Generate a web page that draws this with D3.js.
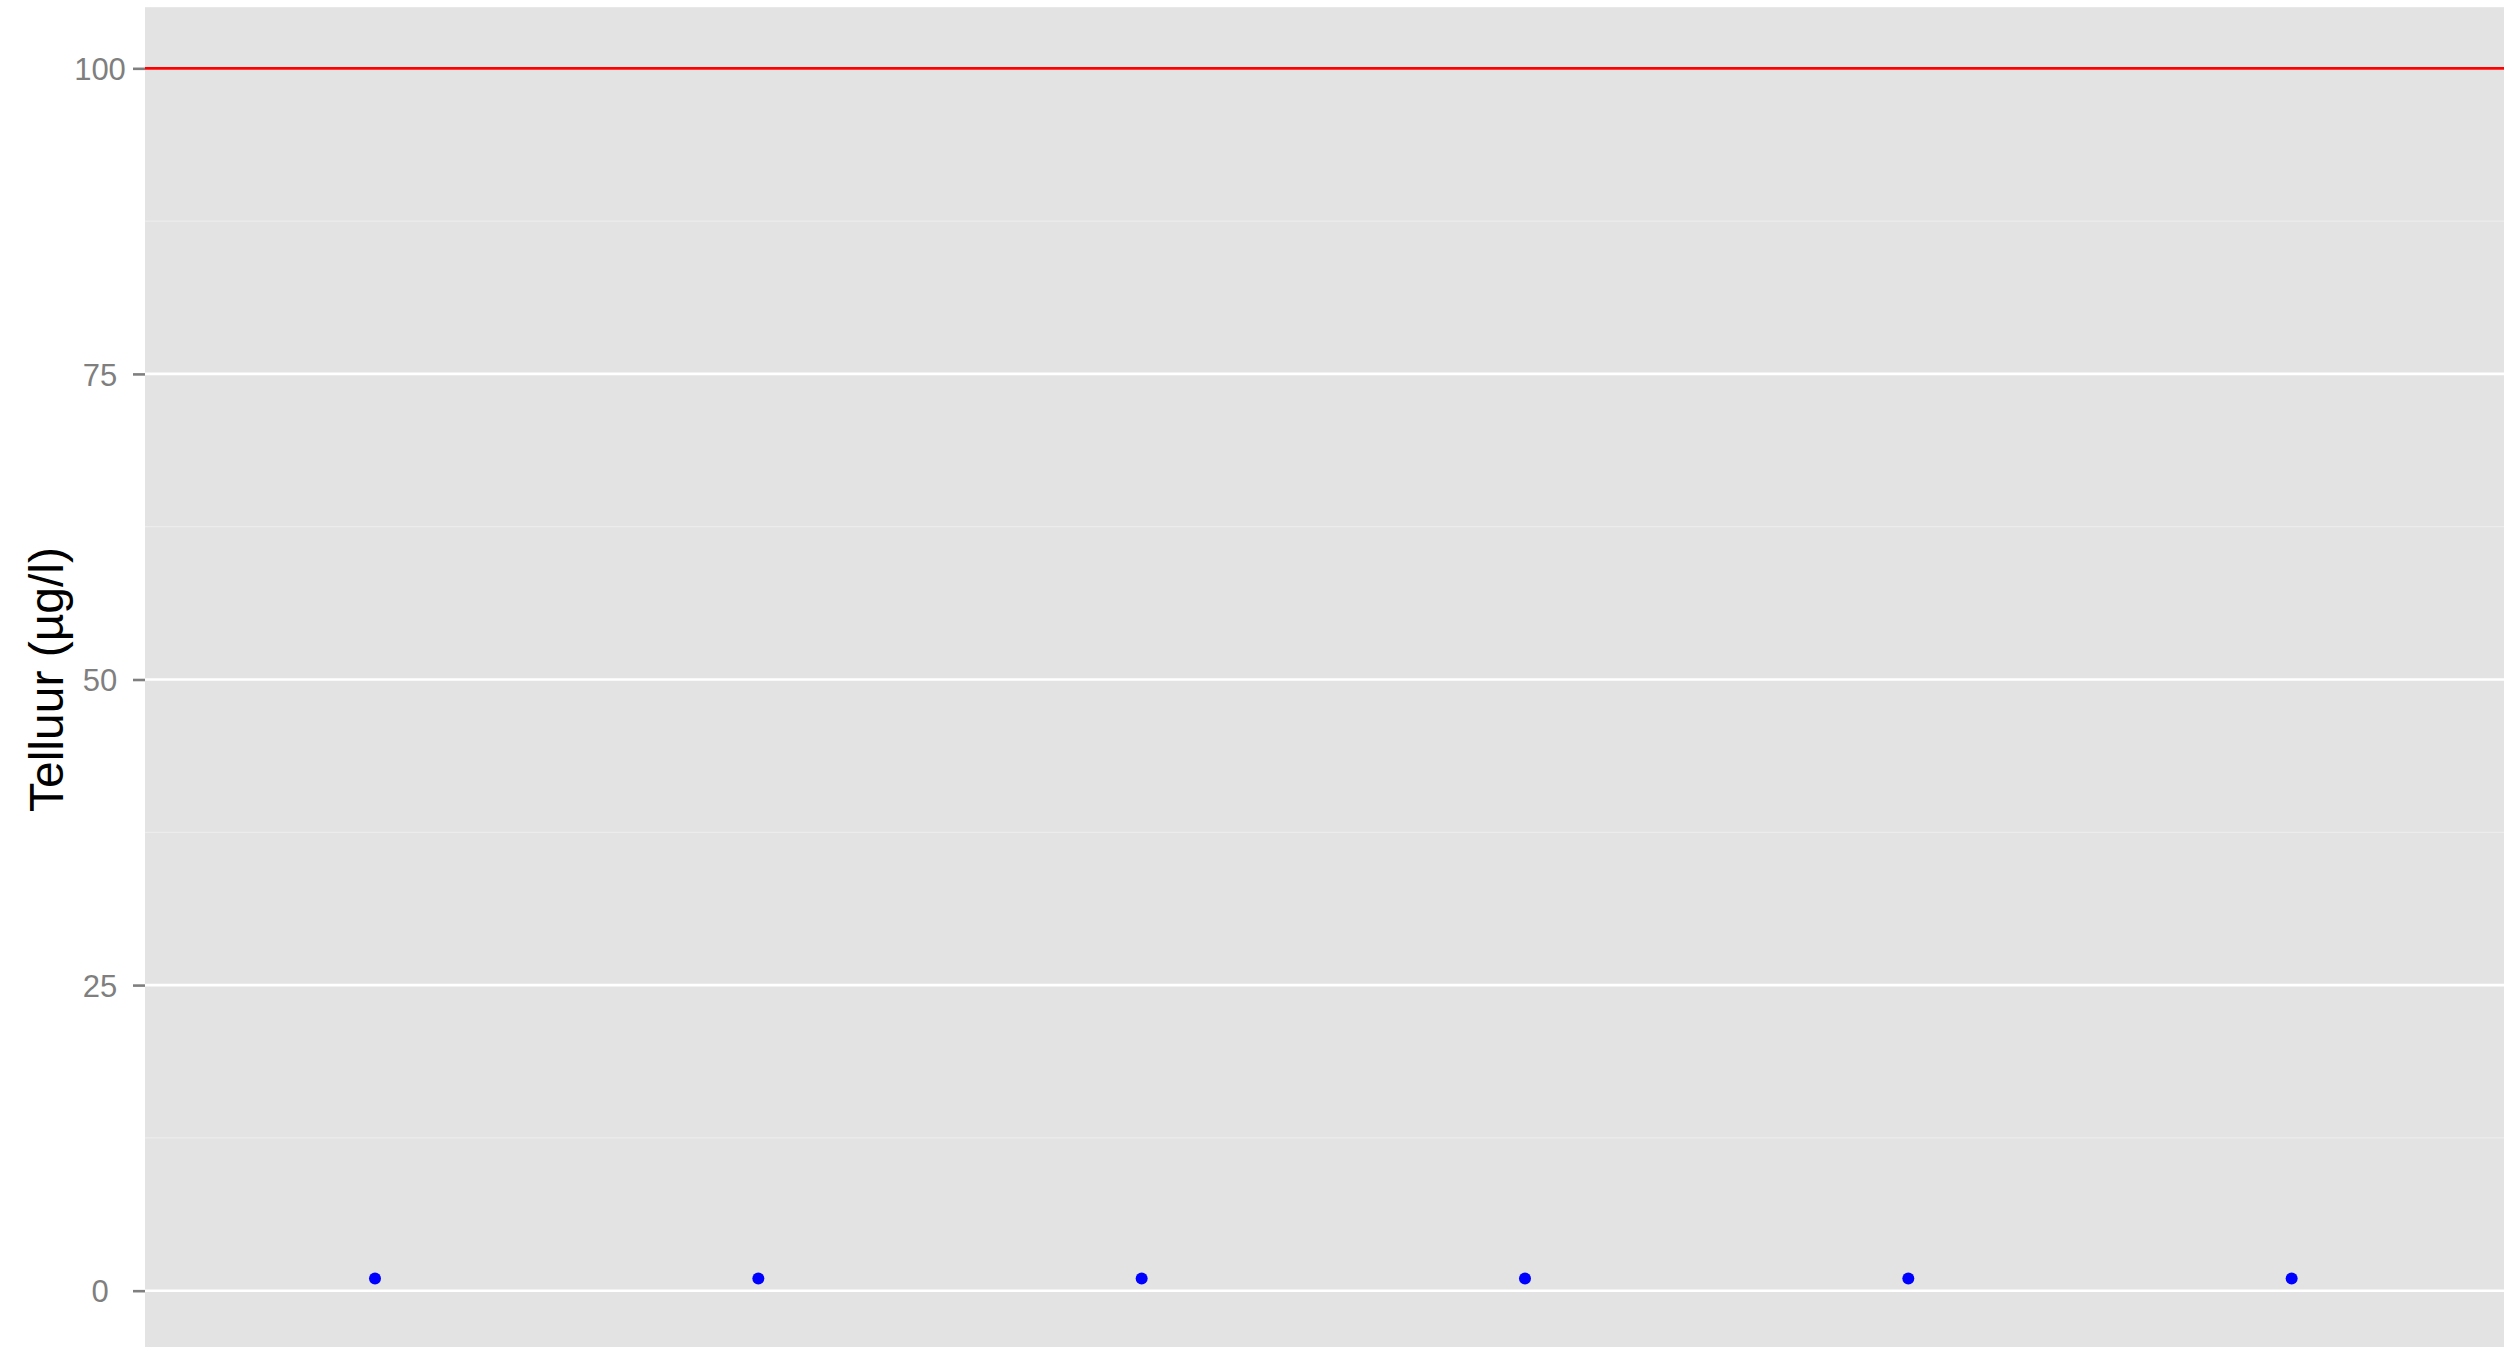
<!doctype html>
<html>
<head>
<meta charset="utf-8" />
<script src="https://d3js.org/d3.v7.min.js"></script>
<style>
  body{ margin: 0; background: #fff; }
  svg text{ font-family: "Liberation Sans", Arial, sans-serif; }
</style>
</head>
<body>
<script>
// sample positions (discrete x, no labels visible) and measured values
var samples = [1, 2, 3, 4, 5, 6];
var values = [1, 1, 1, 1, 1, 1];
var limit = 100;
var yTicks = [0, 25, 50, 75, 100];
var yMinor = [12.5, 37.5, 62.5, 87.5];
var yLabel = "Telluur (\u00b5g/l)";

var W = 2504, H = 1347;
var svg = d3.select("body").append("svg").attr("width", W).attr("height", H);

// panel runs off the right and bottom edge, like the original
var panelLeft = 145, panelTop = 7.2, panelBottom = 1351.8, step = 383.33;

var xScale = d3.scaleLinear()
    .domain([0.4, 0.4 + (W - panelLeft) / step])
    .range([panelLeft, W]);

var yScale = d3.scaleLinear().domain([-5, 105]).range([panelBottom, panelTop]);

svg.append("rect")
    .attr("x", panelLeft).attr("y", panelTop)
    .attr("width", W - panelLeft).attr("height", H - panelTop)
    .attr("fill", "#e3e3e3");

svg.selectAll("line.minor")
    .data(yMinor)
    .enter().append("line")
    .attr("class", "minor")
    .attr("x1", panelLeft).attr("x2", W)
    .attr("y1", d => yScale(d)).attr("y2", d => yScale(d))
    .attr("stroke", "#ececec").attr("stroke-width", 1.3);

svg.selectAll("line.major")
    .data(yTicks)
    .enter().append("line")
    .attr("class", "major")
    .attr("x1", panelLeft).attr("x2", W)
    .attr("y1", d => yScale(d)).attr("y2", d => yScale(d))
    .attr("stroke", "#ffffff").attr("stroke-width", 2.6);

// y axis: ticks and centred labels
var yAxis = d3.axisLeft(yScale).tickValues(yTicks).tickSize(12).tickPadding(0);
var gy = svg.append("g")
    .attr("class", "yAxis")
    .attr("transform", `translate(${panelLeft}, 0)`)
    .call(yAxis);
gy.select(".domain").remove();
gy.selectAll(".tick line").attr("stroke", "#7f7f7f").attr("stroke-width", 2.6);
gy.selectAll(".tick text")
    .attr("x", 100 - panelLeft)
    .attr("text-anchor", "middle")
    .attr("dy", "0.36em")
    .attr("fill", "#7f7f7f")
    .style("font-size", "31px");

svg.append("text")
    .attr("transform", `translate(63, ${(panelTop + panelBottom) / 2}) rotate(-90)`)
    .attr("text-anchor", "middle")
    .attr("fill", "#000")
    .style("font-size", "48px")
    .text(yLabel);

// limit line
svg.append("line")
    .attr("x1", panelLeft).attr("x2", W)
    .attr("y1", yScale(limit)).attr("y2", yScale(limit))
    .attr("stroke", "#ff0000").attr("stroke-width", 2.8);

svg.selectAll("circle.pt")
    .data(samples)
    .enter().append("circle")
    .attr("class", "pt")
    .attr("cx", d => xScale(d))
    .attr("cy", (d, i) => yScale(values[i]))
    .attr("r", 6)
    .attr("fill", "#0000ff");
</script>
</body>
</html>
